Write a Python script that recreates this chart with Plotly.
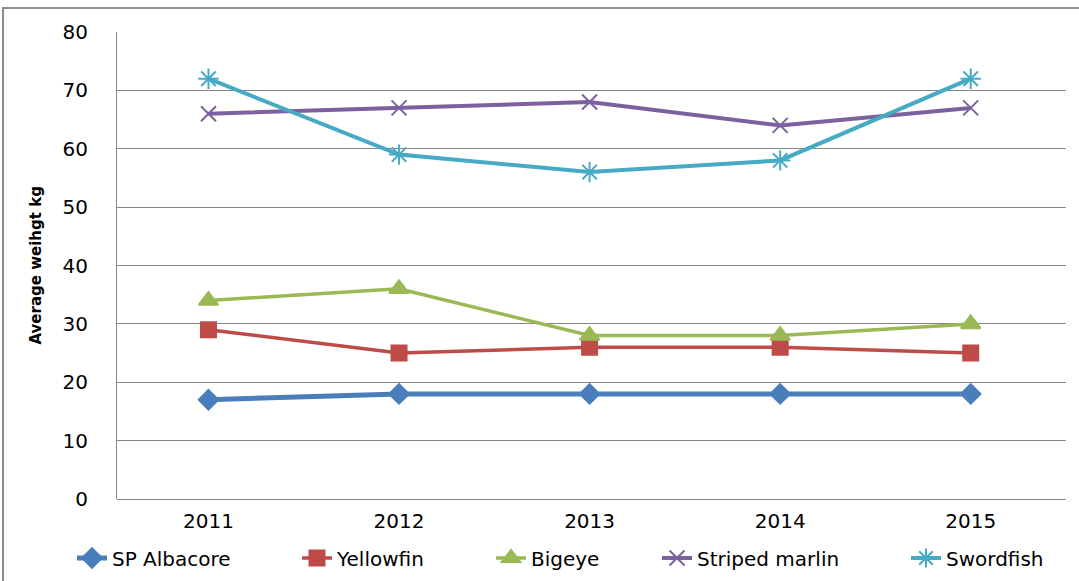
import plotly.graph_objects as go

years = ["2011", "2012", "2013", "2014", "2015"]
albacore = [17, 18, 18, 18, 18]
yellowfin = [29, 25, 26, 26, 25]
bigeye = [34, 36, 28, 28, 30]
striped_marlin = [66, 67, 68, 64, 67]
swordfish = [72, 59, 56, 58, 72]

series = [
    ("SP Albacore", albacore, "#4A7EBB", "diamond", 15, 5),
    ("Yellowfin", yellowfin, "#BE4B48", "square", 15, 3.5),
    ("Bigeye", bigeye, "#98B954", "triangle-up", 17, 3.5),
    ("Striped marlin", striped_marlin, "#7D60A0", "x-thin", 15, 4),
    ("Swordfish", swordfish, "#46AAC5", "asterisk", 17, 4),
]

W, H = 1079, 581
L, R, T, B = 117, 13, 32, 82
pw = W - L - R
ph = H - T - B

legend_px = [72, 297, 491, 657, 906]
legend_y = 1 - 558 / H

fig = go.Figure()
legend_layout = {}
for i, (name, vals, color, sym, size, lw) in enumerate(series):
    lname = "legend" if i == 0 else f"legend{i+1}"
    fig.add_trace(go.Scatter(
        x=years, y=vals, name=name, mode="lines+markers",
        line=dict(color=color, width=lw),
        marker=dict(symbol=sym, size=size, color=color,
                    line=dict(color=color, width=2)),
        legend=lname,
    ))
    legend_layout[lname] = dict(
        xref="container", yref="container",
        x=legend_px[i] / W, xanchor="left", y=legend_y, yanchor="middle",
        font=dict(size=20, family="DejaVu Sans"), bgcolor="rgba(0,0,0,0)",
    )

fig.update_layout(
    width=W, height=H,
    margin=dict(l=L, r=R, t=T, b=B, autoexpand=False),
    paper_bgcolor="white", plot_bgcolor="white",
    font=dict(family="DejaVu Sans, sans-serif", size=20, color="#000000"),
    showlegend=True,
    xaxis=dict(type="category", range=[-0.48, 4.5], showgrid=False,
               showline=False, zeroline=False, ticks="",
               ticklabelstandoff=8, tickfont=dict(size=20)),
    yaxis=dict(range=[0, 80], dtick=10, showgrid=True, gridcolor="#868686",
               gridwidth=1, showline=True, linecolor="#868686", linewidth=1,
               zeroline=True, zerolinecolor="#868686", zerolinewidth=1,
               ticks="", ticklabelstandoff=24, tickfont=dict(size=20)),
    annotations=[
        dict(text="<b>Average weihgt kg</b>", xref="paper", yref="paper",
             x=(35 - L) / pw, y=0.5, xanchor="center", yanchor="middle",
             textangle=-90, showarrow=False,
             font=dict(size=15, family="DejaVu Sans", color="#000000")),
    ],
    shapes=[
        dict(type="rect", xref="paper", yref="paper",
             x0=(3 - L) / pw, x1=(W + 20 - L) / pw,
             y0=(H - B - (H + 20)) / ph, y1=(H - B - 8) / ph,
             line=dict(color="#8C8C8C", width=2), fillcolor="rgba(0,0,0,0)",
             layer="below"),
    ],
    **legend_layout,
)

fig.write_html("out.html")
